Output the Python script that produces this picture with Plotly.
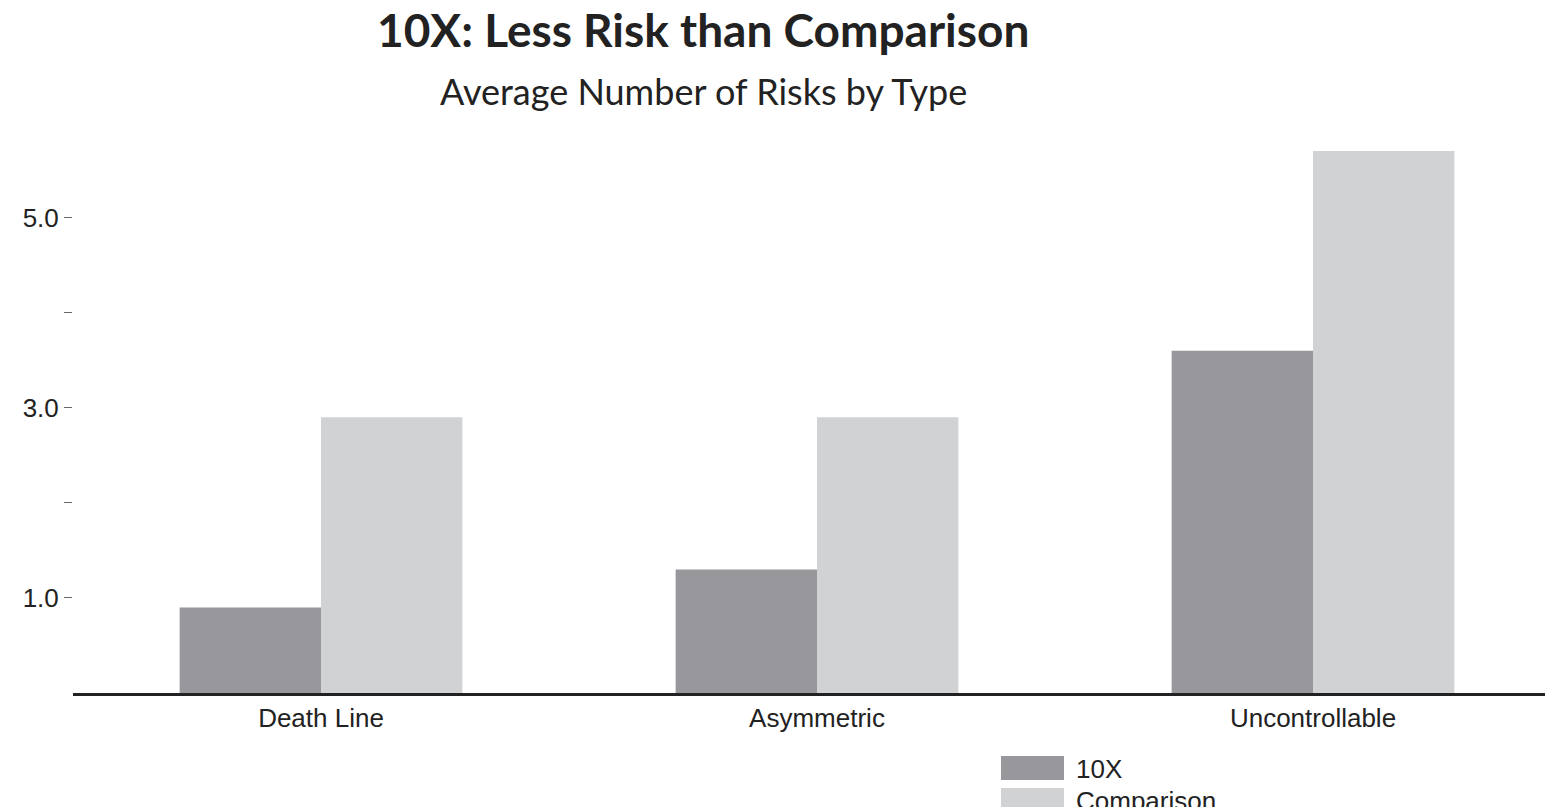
import plotly.graph_objects as go

categories = ["Death Line", "Asymmetric", "Uncontrollable"]
tenx = [0.9, 1.3, 3.6]
comparison = [2.9, 2.9, 5.7]
tick_vals = [1, 2, 3, 4, 5]
tick_text = ["1.0", "", "3.0", "", "5.0"]

C10 = "#98989c"
CCMP = "#d1d2d4"

fig = go.Figure()
fig.add_bar(x=categories, y=tenx, name="10X", marker_color=C10, marker_line_width=0)
fig.add_bar(x=categories, y=comparison, name="Comparison", marker_color=CCMP, marker_line_width=0)

W, H = 1553, 807
l, r, t, b = 65, 0, 124, 122
fig.update_layout(
    width=W, height=H, barmode="group", bargap=0.43, bargroupgap=0,
    plot_bgcolor="white", paper_bgcolor="white", showlegend=False,
    margin=dict(l=l, r=r, t=t, b=b, autoexpand=False),
    font=dict(family="Liberation Sans, Arial", color="#222", size=26),
    xaxis=dict(showline=True, linecolor="#222", linewidth=3, ticks="", automargin=False,
               tickfont=dict(size=26), range=[-0.5, 2.5]),
    yaxis=dict(range=[0, 5.9], tickvals=tick_vals, ticktext=tick_text, ticks="outside",
               ticklen=8, tickcolor="#666", showgrid=False, zeroline=False, showline=False,
               automargin=False, tickfont=dict(size=26)),
)

PW, PH = W - l - r, H - t - b
def px(x):
    return (x - l) / PW
def py(y):
    return (H - b - y) / PH

fig.add_annotation(text="<b>10X: Less Risk than Comparison</b>", xref="paper", yref="paper",
                   x=px(695), y=py(22), xanchor="center", yanchor="middle", showarrow=False,
                   font=dict(family="Lato, Open Sans", size=46, color="#222"))
fig.add_annotation(text="Average Number of Risks by Type", xref="paper", yref="paper",
                   x=px(695), y=py(83), xanchor="center", yanchor="middle", showarrow=False,
                   font=dict(family="Lato, Open Sans", size=36, color="#222"))

for (y0, y1, col, name) in [(748, 772, C10, "10X"), (780, 803, CCMP, "Comparison")]:
    fig.add_shape(type="rect", xref="paper", yref="paper", x0=px(993), x1=px(1056),
                  y0=py(y1), y1=py(y0), fillcolor=col, line_width=0)
    fig.add_annotation(text=name, xref="paper", yref="paper", x=px(1066), y=py((y0 + y1) / 2 + 1),
                       xanchor="left", yanchor="middle", showarrow=False, font=dict(size=26))

fig.write_html("out.html")
